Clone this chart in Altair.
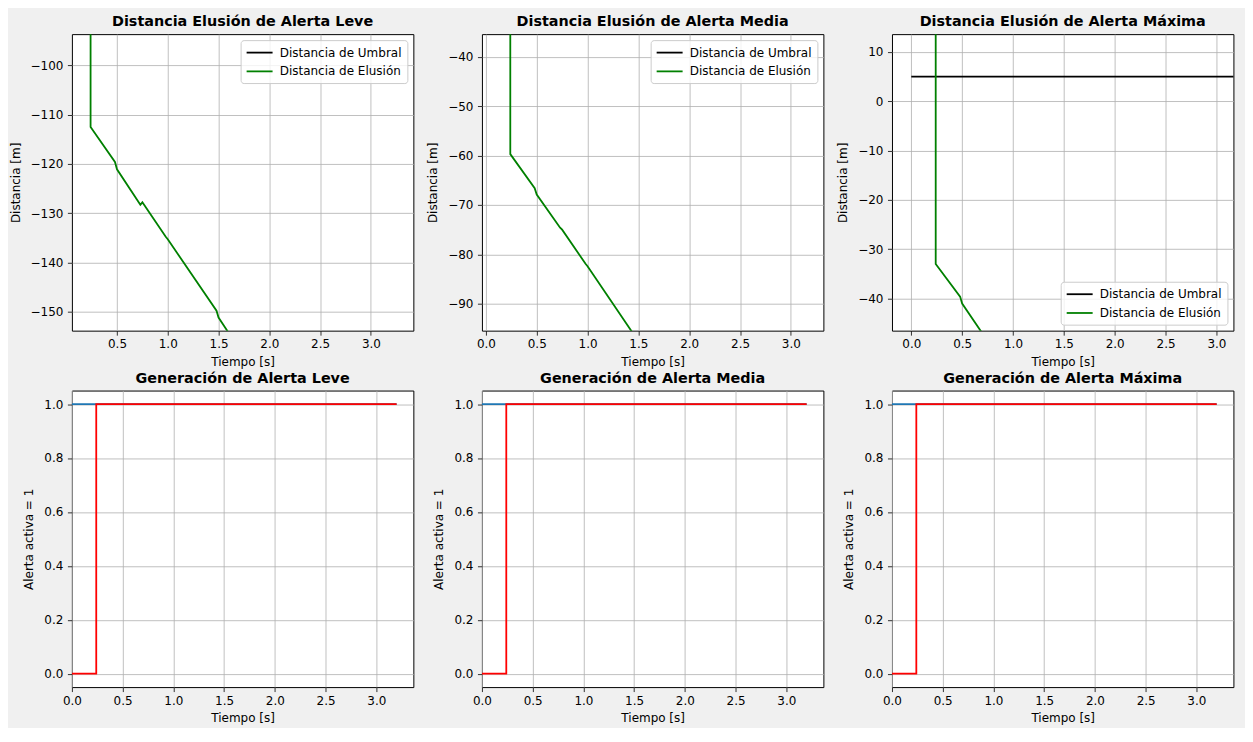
import altair as alt
import pandas as pd

# ---------------- data ----------------
umbral_label = "Distancia de Umbral"
elusion_label = "Distancia de Elusión"

titles_top = ["Distancia Elusión de Alerta Leve",
              "Distancia Elusión de Alerta Media",
              "Distancia Elusión de Alerta Máxima"]
titles_bottom = ["Generación de Alerta Leve",
                 "Generación de Alerta Media",
                 "Generación de Alerta Máxima"]

# elusion distance curves
leve_t = [0.24, 0.24, 0.48, 0.50, 0.73, 0.75, 0.98, 1.00, 1.48, 1.50, 1.75]
leve_d = [20, -112.5, -119.6, -121.1, -128.3, -127.8, -134.8, -135.3, -149.8, -151.2, -159.0]
media_t = [0.24, 0.24, 0.48, 0.50, 0.73, 0.75, 0.98, 1.00, 1.48, 1.50]
media_d = [20, -59.7, -66.6, -67.9, -74.6, -75.0, -81.9, -82.4, -97.0, -98.5]
max_t = [0.24, 0.24, 0.48, 0.50, 0.73, 0.75]
max_d = [20, -33.0, -39.6, -41.0, -48.0, -48.5]

# threshold distance (only visible in the Máxima panel)
umbral_max_t = [0.0, 3.2]
umbral_max_d = [5, 5]

# alert generation
alerta_t = [0.0, 0.24, 0.24, 3.2]
alerta_v = [0, 0, 1, 1]
ref_t = [0.0, 3.2]
ref_v = [1, 1]

# axis views
top_xdom = [[0.056, 3.418], [-0.039, 3.32], [-0.19, 3.167]]
top_ydom = [[-153.85, -93.65], [-95.45, -35.4], [-46.5, 13.6]]
top_xticks = [[0.5, 1.0, 1.5, 2.0, 2.5, 3.0],
              [0.0, 0.5, 1.0, 1.5, 2.0, 2.5, 3.0],
              [0.0, 0.5, 1.0, 1.5, 2.0, 2.5, 3.0]]
top_yticks = [[-150, -140, -130, -120, -110, -100],
              [-90, -80, -70, -60, -50, -40],
              [-40, -30, -20, -10, 0, 10]]
legend_orients = ["top-right", "top-right", "bottom-right"]

bot_xdom = [0.0, 3.365]
bot_ydom = [-0.05, 1.05]
bot_xticks = [0.0, 0.5, 1.0, 1.5, 2.0, 2.5, 3.0]
bot_yticks = [0.0, 0.2, 0.4, 0.6, 0.8, 1.0]

W, H = 342, 297


def top_panel(title, t, d, ut, ud, xdom, ydom, xticks, yticks, orient):
    rows = []
    for k, (a, b) in enumerate(zip(ut, ud)):
        rows.append({"t": a, "d": b, "serie": umbral_label, "i": k})
    for k, (a, b) in enumerate(zip(t, d)):
        rows.append({"t": a, "d": b, "serie": elusion_label, "i": k})
    df = pd.DataFrame(rows)
    return alt.Chart(df).mark_line(clip=True, strokeWidth=1.8).encode(
        x=alt.X("t:Q", scale=alt.Scale(domain=xdom, nice=False, zero=False),
                axis=alt.Axis(values=xticks, format=".1f", title="Tiempo [s]")),
        y=alt.Y("d:Q", scale=alt.Scale(domain=ydom, nice=False, zero=False),
                axis=alt.Axis(values=yticks, format="d", title="Distancia [m]")),
        color=alt.Color("serie:N",
                        scale=alt.Scale(domain=[umbral_label, elusion_label],
                                        range=["#000000", "#008000"]),
                        legend=alt.Legend(title=None, orient=orient, offset=6)),
        order="i:Q",
    ).properties(width=W, height=H, title=title)


def bottom_panel(title):
    ref = pd.DataFrame({"t": ref_t, "v": ref_v, "i": list(range(len(ref_t)))})
    al = pd.DataFrame({"t": alerta_t, "v": alerta_v, "i": list(range(len(alerta_t)))})
    x = alt.X("t:Q", scale=alt.Scale(domain=bot_xdom, nice=False, zero=False),
              axis=alt.Axis(values=bot_xticks, format=".1f", title="Tiempo [s]"))
    y = alt.Y("v:Q", scale=alt.Scale(domain=bot_ydom, nice=False, zero=False),
              axis=alt.Axis(values=bot_yticks, format=".1f", title="Alerta activa = 1"))
    blue = alt.Chart(ref).mark_line(clip=True, strokeWidth=1.8, color="#1f77b4").encode(
        x=x, y=y, order="i:Q")
    red = alt.Chart(al).mark_line(clip=True, strokeWidth=1.8, color="#ff0000").encode(
        x=x, y=y, order="i:Q")
    return alt.layer(blue, red).properties(width=W, height=H, title=title)


panels = [
    top_panel(titles_top[0], leve_t, leve_d, [], [], top_xdom[0], top_ydom[0],
              top_xticks[0], top_yticks[0], legend_orients[0]),
    top_panel(titles_top[1], media_t, media_d, [], [], top_xdom[1], top_ydom[1],
              top_xticks[1], top_yticks[1], legend_orients[1]),
    top_panel(titles_top[2], max_t, max_d, umbral_max_t, umbral_max_d, top_xdom[2],
              top_ydom[2], top_xticks[2], top_yticks[2], legend_orients[2]),
    bottom_panel(titles_bottom[0]),
    bottom_panel(titles_bottom[1]),
    bottom_panel(titles_bottom[2]),
]

chart = alt.concat(
    *panels, columns=3, spacing={"row": 60, "column": 68.7}, bounds="flush"
).resolve_scale(
    color="independent"
).properties(
    background="#f0f0f0",
    padding={"left": 0, "top": 4.6, "right": 11, "bottom": 3},
).configure(
    font="DejaVu Sans"
).configure_view(
    fill="white", stroke="black", strokeWidth=1
).configure_title(
    fontSize=14.4, fontWeight="bold", offset=4.5, anchor="middle", color="black",
    font="DejaVu Sans"
).configure_axis(
    grid=True, gridColor="#b0b0b0", gridWidth=0.8, domain=False,
    tickColor="black", tickSize=4.5, tickWidth=0.8,
    labelFontSize=12, titleFontSize=12, titleFontWeight="normal",
    labelColor="black", titleColor="black", labelFont="DejaVu Sans",
    titleFont="DejaVu Sans", labelFlush=False
).configure_axisX(
    labelPadding=3.5, titlePadding=6.5
).configure_axisY(
    labelPadding=4.5, titlePadding=8
).configure_legend(
    fillColor="rgba(255,255,255,0.8)", strokeColor="#cccccc", cornerRadius=3,
    padding=5, labelFontSize=12, labelColor="black", labelFont="DejaVu Sans",
    symbolType="M-2,0H2", symbolSize=169, symbolStrokeWidth=1.8,
    symbolOffset=6.5, labelOffset=12.6, rowPadding=4.8
)

chart.save("out.html", embed_options={"renderer": "svg", "actions": False})
